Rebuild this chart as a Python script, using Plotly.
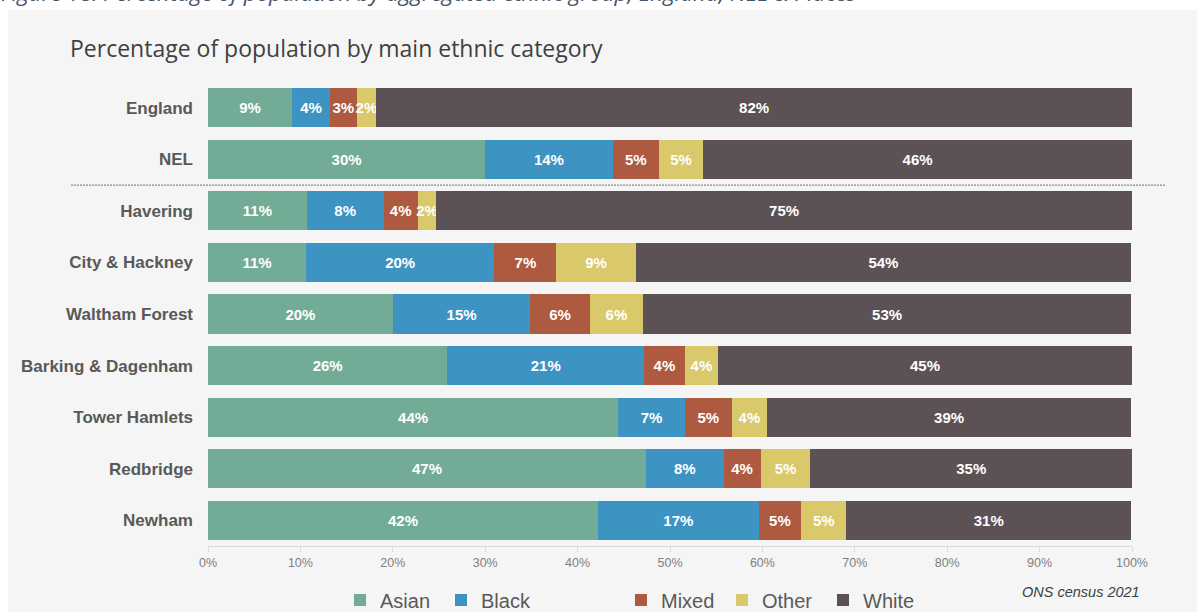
import plotly.graph_objects as go

places = ["England", "NEL", "Havering", "City & Hackney", "Waltham Forest",
          "Barking & Dagenham", "Tower Hamlets", "Redbridge", "Newham"]
asian = [9.1, 30.0, 10.7, 10.6, 20.0, 25.9, 44.4, 47.4, 42.2]
black = [4.1, 13.8, 8.3, 20.4, 14.9, 21.3, 7.2, 8.4, 17.4]
mixed = [2.9, 5.0, 3.7, 6.7, 6.4, 4.4, 5.1, 4.0, 4.6]
other = [2.1, 4.8, 2.0, 8.6, 5.8, 3.6, 3.8, 5.4, 4.9]
white = [81.8, 46.4, 75.3, 53.6, 52.8, 44.8, 39.4, 34.8, 30.8]
x_ticks = [0, 10, 20, 30, 40, 50, 60, 70, 80, 90, 100]

series = [
    ("Asian", asian, "#72AB96", "legend"),
    ("Black", black, "#3D93C2", "legend"),
    ("Mixed", mixed, "#AE5A41", "legend2"),
    ("Other", other, "#D9C96B", "legend2"),
    ("White", white, "#5C5256", "legend2"),
]

FONT = "Liberation Sans, Arial, sans-serif"

fig = go.Figure()
for name, vals, col, lg in series:
    fig.add_trace(go.Bar(
        name=name, y=places, x=vals, orientation="h", legend=lg,
        marker=dict(color=col, line=dict(width=0)),
        texttemplate="%{x:.0f}%", textposition="inside", textangle=0,
        insidetextanchor="middle",
        textfont=dict(family=FONT, size=15, color="white", weight="bold"),
        width=0.76,
    ))

# plot area: x 208..1132, y 82..546
L, R, T, B = 208, 65, 82, 66
W, H = 1197 - L - R, 612 - T - B

def px(x):
    return (x - L) / W

def py(y):
    return (612 - B - y) / H

shapes = [
    dict(type="rect", xref="paper", yref="paper", layer="below",
         x0=px(8), x1=px(1197), y0=py(612), y1=py(10),
         fillcolor="#F5F5F5", line=dict(width=0)),
    dict(type="line", xref="paper", yref="y", x0=px(71), x1=px(1166),
         y0=1.5, y1=1.5, line=dict(color="#707070", width=1, dash="2px,1px")),
]

annotations = [
    dict(text="<i>Figure 18: Percentage of population by aggregated ethnic group, England, NEL & Places</i>",
         xref="paper", yref="paper", x=px(-1), y=py(10), xanchor="left", yanchor="bottom",
         showarrow=False, font=dict(family="Open Sans, sans-serif", size=22.3, color="#44546A")),
    dict(text="Percentage of population by main ethnic category",
         xref="paper", yref="paper", x=px(68), y=py(48), xanchor="left", yanchor="middle",
         showarrow=False, font=dict(family="Open Sans, sans-serif", size=23, color="#404040")),
    dict(text="<i>ONS census 2021</i>",
         xref="paper", yref="paper", x=px(1142), y=py(592), xanchor="right", yanchor="middle",
         showarrow=False, font=dict(family=FONT, size=14.5, color="#404040")),
]

legend_common = dict(orientation="h", yanchor="middle", y=py(600), xanchor="left",
                     traceorder="normal", itemwidth=30, entrywidth=56,
                     font=dict(family=FONT, size=20, color="#595959"),
                     bgcolor="rgba(0,0,0,0)")

fig.update_layout(
    width=1197, height=612,
    margin=dict(l=L, r=R, t=T, b=B, pad=0, autoexpand=False),
    paper_bgcolor="white", plot_bgcolor="rgba(0,0,0,0)",
    barmode="stack", bargap=0.24,
    uniformtext=dict(minsize=15, mode="show"),
    showlegend=True,
    legend=dict(x=px(340), **legend_common),
    legend2=dict(x=px(621), **legend_common),
    shapes=shapes, annotations=annotations,
    xaxis=dict(range=[0, 100], tickvals=x_ticks, ticktext=[f"{v}%" for v in x_ticks],
               showgrid=False, zeroline=False, showline=True, linecolor="#D9D9D9", linewidth=1,
               ticks="outside", ticklen=5, tickcolor="#D9D9D9",
               tickfont=dict(family=FONT, size=12.5, color="#7F7F7F"), fixedrange=True),
    yaxis=dict(categoryorder="array", categoryarray=places, autorange="reversed",
               showgrid=False, zeroline=False, showline=False, ticks="",
               ticklabelstandoff=14,
               tickfont=dict(family=FONT, size=17, color="#595959", weight="bold")),
)

fig.write_html("out.html", config={"displayModeBar": False},
               post_script="document.body.style.margin='0';document.body.style.overflow='hidden';")
